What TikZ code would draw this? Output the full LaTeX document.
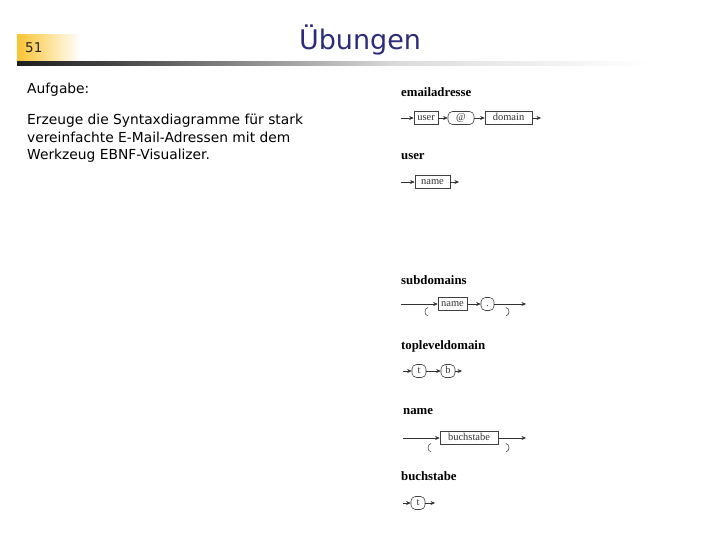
\documentclass[tikz,border=0pt]{standalone}
\usepackage{fontspec}
\setmainfont{Liberation Serif}
\newfontfamily\slidefont{DejaVu Sans}
\usetikzlibrary{arrows.meta}
\definecolor{titleblue}{RGB}{44,44,122}
\definecolor{gold}{RGB}{250,196,50}
\pgfdeclarehorizontalshading{hdrline}{100bp}{color(0bp)=(black!88); color(25bp)=(black!88); color(33bp)=(black!72); color(55bp)=(black!14); color(75bp)=(white); color(100bp)=(white)}
\pgfdeclarehorizontalshading{numbox}{100bp}{color(0bp)=(gold); color(25bp)=(gold); color(41bp)=(gold!70); color(75bp)=(white); color(100bp)=(white)}
\begin{document}
\begin{tikzpicture}[x=1pt,y=-1pt,
  boxfont/.style={font=\fontsize{10.5}{11}\selectfont, text height=6.5pt, text depth=1.5pt, text=black!80},
  nt/.style={draw=black!75, line width=0.6pt, rectangle, minimum height=13pt, inner sep=0pt, boxfont},
  tm/.style={draw=black!75, line width=0.6pt, rectangle, rounded corners=4.5pt, minimum height=13pt, inner sep=0pt, boxfont},
  flow/.style={draw=black!80, line width=0.6pt, -{Stealth[length=4.5pt,width=4pt]}},
  lbl/.style={anchor=base west, inner sep=0pt, font=\bfseries\fontsize{12.8}{14}\selectfont},
  loopArc/.style={draw=black!70, line width=0.6pt},
  body/.style={anchor=base west, inner sep=0pt, font=\slidefont\fontsize{13.8}{17}\selectfont}
]
\useasboundingbox (0,0) rectangle (720,540);
\fill[white] (0,0) rectangle (720,540);
% header
\shade[shading=numbox] (17,35) rectangle (80,62);
\shade[shading=hdrline] (17,62) rectangle (650,66);
\node[anchor=base west, inner sep=0pt, font=\slidefont\fontsize{13.5}{15}\selectfont, text=black!85] (num) at (25,53) {51};
\node[anchor=base, inner sep=0pt, font=\slidefont\fontsize{27}{30}\selectfont, text=titleblue] (title) at (360,50) {Übungen};
% body text
\node[body] (aufg) at (27,94) {Aufgabe:};
\node[body] (l1) at (27,125) {Erzeuge die Syntaxdiagramme für stark};
\node[body] (l2) at (27,142.5) {vereinfachte E-Mail-Adressen mit dem};
\node[body] (l3) at (27,160) {Werkzeug EBNF-Visualizer.};
% emailadresse
\node[lbl] (lemail) at (401,97) {emailadresse};
\coordinate (e0) at (401,118);
\node[nt, minimum width=24pt] (euser) at (426,118) {user};
\node[tm, minimum width=26pt] (eat) at (461,118) {@};
\node[nt, minimum width=47pt] (edom) at (508.5,118) {domain};
\coordinate (e1) at (541,118);
\draw[flow] (e0) -- (euser.west);
\draw[flow] (euser.east) -- (eat.west);
\draw[flow] (eat.east) -- (edom.west);
\draw[flow] (edom.east) -- (e1);
% user
\node[lbl] (luser) at (401,160) {user};
\coordinate (u0) at (401,182);
\node[nt, minimum width=35pt] (uname) at (432.5,182) {name};
\coordinate (u1) at (459,182);
\draw[flow] (u0) -- (uname.west);
\draw[flow] (uname.east) -- (u1);
% subdomains
\node[lbl] (lsub) at (401,284) {subdomains};
\coordinate (s0) at (401,304);
\node[nt, minimum width=29pt] (sname) at (452.5,304) {name};
\node[tm, minimum width=13pt] (sdot) at (487.5,304) {.};
\coordinate (s1) at (526,304);
\draw[flow] (s0) -- (sname.west);
\draw[flow] (sname.east) -- (sdot.west);
\draw[flow] (sdot.east) -- (s1);
\draw[loopArc] (428,307.5) .. controls (424,308.5) and (424,315) .. (428,316);
\draw[loopArc] (506,307.5) .. controls (510,308.5) and (510,315) .. (506,316);
% topleveldomain
\node[lbl] (ltop) at (401,349) {topleveldomain};
\coordinate (t0) at (403,371);
\node[tm, minimum width=14pt] (tt) at (419,371) {t};
\node[tm, minimum width=14pt] (tb) at (448,371) {b};
\coordinate (t1) at (462,371);
\draw[flow] (t0) -- (tt.west);
\draw[flow] (tt.east) -- (tb.west);
\draw[flow] (tb.east) -- (t1);
% name
\node[lbl] (lname) at (403,414) {name};
\coordinate (n0) at (403,438);
\node[nt, minimum width=58pt] (nbuch) at (469,438) {buchstabe};
\coordinate (n1) at (526,438);
\draw[flow] (n0) -- (nbuch.west);
\draw[flow] (nbuch.east) -- (n1);
\draw[loopArc] (431,443.5) .. controls (427,444.5) and (427,451) .. (431,452);
\draw[loopArc] (506,443.5) .. controls (510,444.5) and (510,451) .. (506,452);
% buchstabe
\node[lbl] (lbuch) at (401,480) {buchstabe};
\coordinate (b0) at (403,503);
\node[tm, minimum width=14pt] (bt) at (418,503) {t};
\coordinate (b1) at (435,503);
\draw[flow] (b0) -- (bt.west);
\draw[flow] (bt.east) -- (b1);
\end{tikzpicture}
\end{document}
